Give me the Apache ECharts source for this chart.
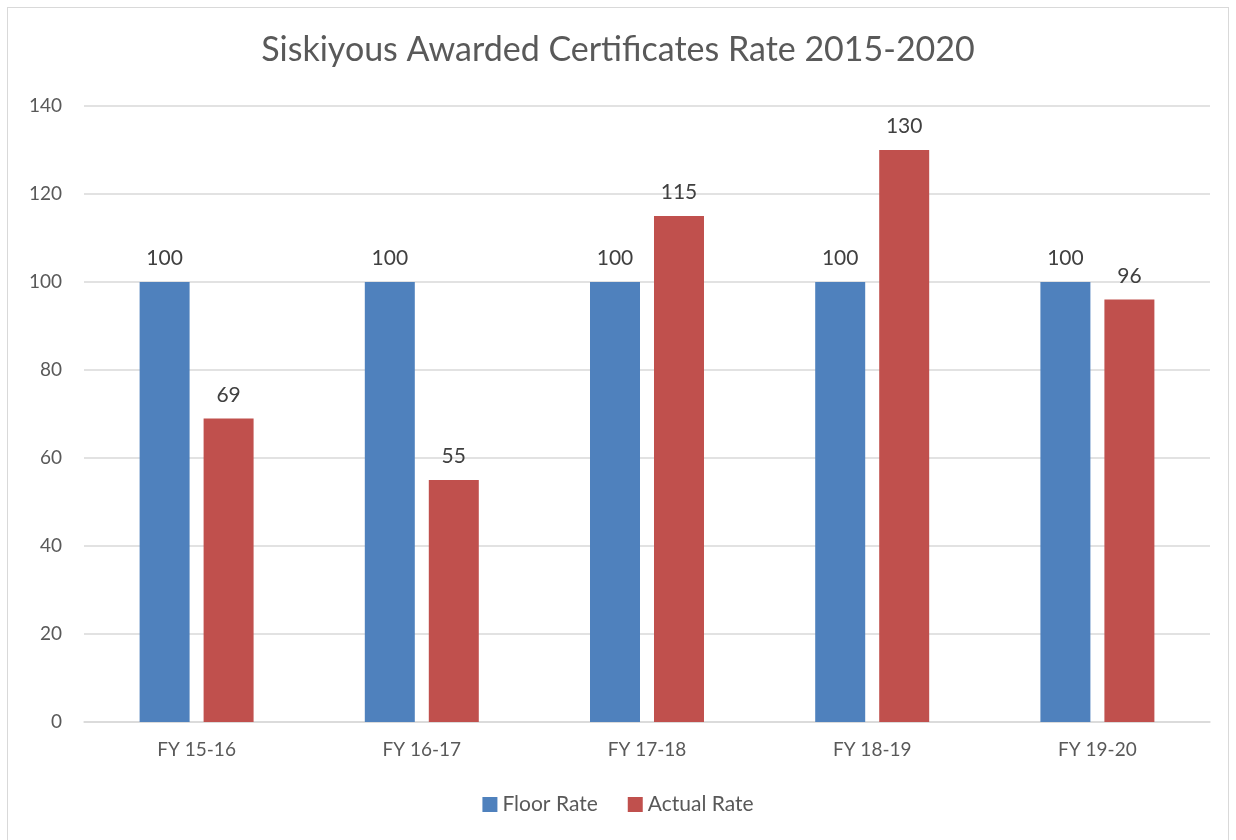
<!DOCTYPE html>
<html>
<head>
<meta charset="utf-8">
<script src="https://cdn.jsdelivr.net/npm/echarts@6/dist/echarts.min.js"></script>
<style>
  html, body { margin: 0; padding: 0; background: #fff; }
  #frame {
    position: absolute; left: 7px; top: 7px; width: 1222px; height: 840px;
    border: 1px solid #d9d9d9; box-sizing: border-box;
  }
  #chart { position: absolute; left: 0; top: 0; width: 1236px; height: 840px; }
</style>
</head>
<body>
<div id="frame"></div>
<div id="chart"></div>
<script>
// 数据
const categories = ['FY 15-16', 'FY 16-17', 'FY 17-18', 'FY 18-19', 'FY 19-20'];
const floorRate = [100, 100, 100, 100, 100];
const actualRate = [69, 55, 115, 130, 96];
const yTicks = { min: 0, max: 140, interval: 20 };

const chart = echarts.init(document.getElementById('chart'));
const font = 'Lato, "Open Sans", sans-serif';

const labelStyle = {
  show: true,
  position: 'top',
  distance: 13,
  color: '#404040',
  fontSize: 21,
  fontFamily: font
};

chart.setOption({
  animation: false,
  title: {
    text: 'Siskiyous Awarded Certificates Rate 2015-2020',
    left: 'center',
    top: 28,
    textStyle: { fontSize: 34, fontWeight: 'normal', color: '#595959', fontFamily: font }
  },
  legend: {
    bottom: 20,
    left: 'center',
    itemWidth: 15,
    itemHeight: 15,
    itemGap: 30,
    icon: 'rect',
    textStyle: { fontSize: 21, color: '#595959', fontFamily: font }
  },
  grid: { left: 84, right: 26, top: 106, bottom: 118, containLabel: false },
  xAxis: {
    type: 'category',
    data: categories,
    axisLine: { lineStyle: { color: '#d9d9d9', width: 1.5 } },
    axisTick: { show: false },
    axisLabel: { color: '#595959', fontSize: 19, margin: 18, fontFamily: font }
  },
  yAxis: {
    type: 'value',
    min: yTicks.min,
    max: yTicks.max,
    interval: yTicks.interval,
    axisLine: { show: false },
    axisTick: { show: false },
    splitLine: { lineStyle: { color: '#d9d9d9', width: 1.5 } },
    axisLabel: { color: '#595959', fontSize: 19, margin: 22, fontFamily: font }
  },
  series: [
    {
      name: 'Floor Rate',
      type: 'bar',
      data: floorRate,
      barWidth: '22.2%',
      barGap: '28%',
      itemStyle: { color: '#4f81bd' },
      label: labelStyle
    },
    {
      name: 'Actual Rate',
      type: 'bar',
      data: actualRate,
      barWidth: '22.2%',
      itemStyle: { color: '#c0504d' },
      label: labelStyle
    }
  ]
});
</script>
</body>
</html>
